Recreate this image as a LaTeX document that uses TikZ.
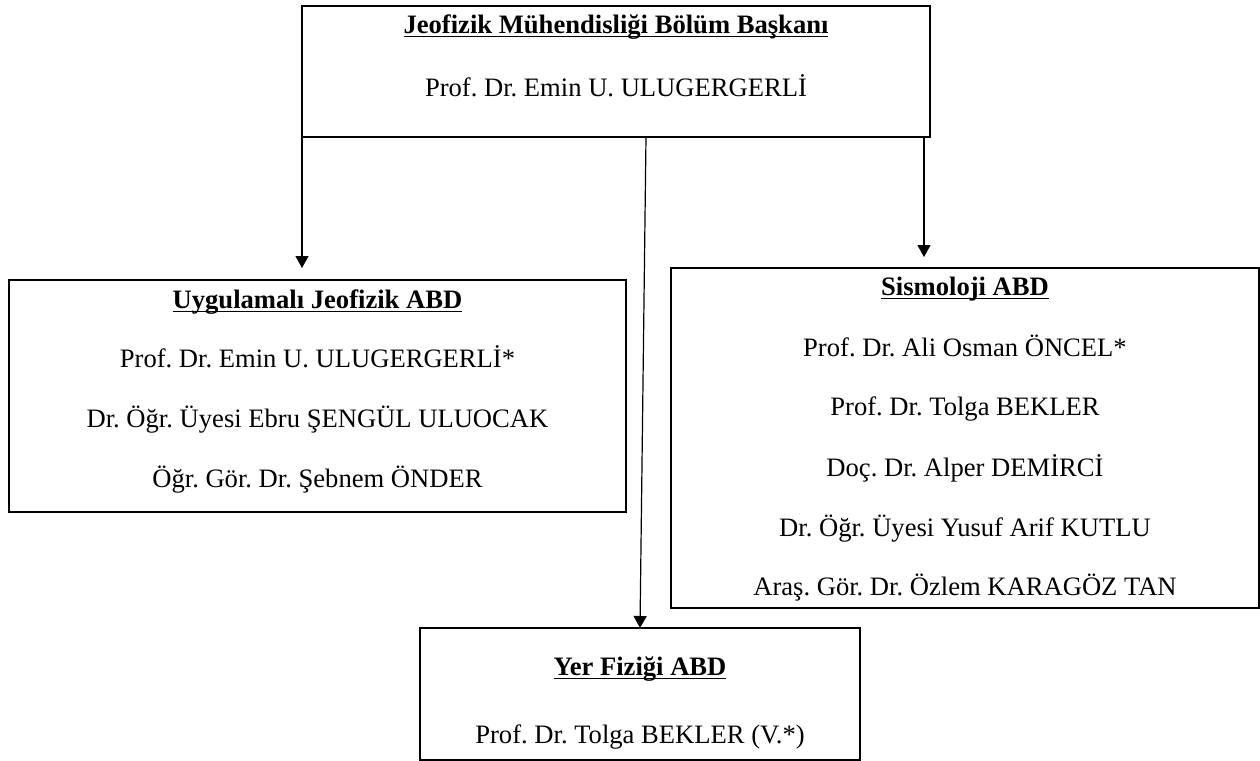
\documentclass[tikz,border=0pt]{standalone}
\usepackage{fontspec}
\setmainfont{Liberation Serif}
\usetikzlibrary{arrows.meta}

\newsavebox{\baslikkutu}
\newcommand{\altcizgili}[1]{\sbox{\baslikkutu}{\textbf{#1}}\rlap{\rule[-2.2pt]{\wd\baslikkutu}{0.75pt}}\usebox{\baslikkutu}}

\begin{document}
\frenchspacing
\begin{tikzpicture}[x=0.5pt,y=-0.5pt,
    kutu/.style={draw, line width=0.75pt, inner sep=0pt, outer sep=0pt},
    satir/.style={anchor=base, inner sep=0pt, font=\fontsize{13.3}{16}\selectfont},
    ok/.style={line width=0.6pt, -{Triangle[length=6pt,width=6.5pt]}}]

    \useasboundingbox (0,0) rectangle (1260,761);

    % bolum baskani
    \node[kutu, minimum width=314pt, minimum height=65.5pt] (bolum) at (616,71.5) {};
    \node[satir] (bolum1) at (616,33) {\altcizgili{Jeofizik Mühendisliği Bölüm Başkanı}};
    \node[satir] (bolum2) at (616,96) {Prof. Dr. Emin U. ULUGERGERLİ};

    % uygulamali jeofizik
    \node[kutu, minimum width=308.5pt, minimum height=116pt] (uygulamali) at (317.5,396) {};
    \node[satir] (uyg1) at (317.5,308) {\altcizgili{Uygulamalı Jeofizik ABD}};
    \node[satir] (uyg2) at (317.5,367) {Prof. Dr. Emin U. ULUGERGERLİ*};
    \node[satir] (uyg3) at (317.5,427) {Dr. Öğr. Üyesi Ebru ŞENGÜL ULUOCAK};
    \node[satir] (uyg4) at (317.5,487) {Öğr. Gör. Dr. Şebnem ÖNDER};

    % sismoloji
    \node[kutu, minimum width=294pt, minimum height=170pt] (sismoloji) at (965,438) {};
    \node[satir] (sis1) at (965,295) {\altcizgili{Sismoloji ABD}};
    \node[satir] (sis2) at (965,356) {Prof. Dr. Ali Osman ÖNCEL*};
    \node[satir] (sis3) at (965,415) {Prof. Dr. Tolga BEKLER};
    \node[satir] (sis4) at (965,476) {Doç. Dr. Alper DEMİRCİ};
    \node[satir] (sis5) at (965,536) {Dr. Öğr. Üyesi Yusuf Arif KUTLU};
    \node[satir] (sis6) at (965,595) {Araş. Gör. Dr. Özlem KARAGÖZ TAN};

    % yer fizigi
    \node[kutu, minimum width=220pt, minimum height=66pt] (yerfizigi) at (640,694) {};
    \node[satir] (yer1) at (640,675) {\altcizgili{Yer Fiziği ABD}};
    \node[satir] (yer2) at (640,743) {Prof. Dr. Tolga BEKLER (V.*)};

    \draw[ok, shorten >=6pt] (bolum.south west) -- (bolum.south west |- uygulamali.north); % baskan -> uygulamali
    \draw[ok] ([xshift=15pt]bolum.south) -- (yerfizigi.north); % baskan -> yer fizigi
    \draw[ok, shorten >=5.5pt] ([xshift=-3pt]bolum.south east) -- ([xshift=-3pt]bolum.south east |- sismoloji.north); % baskan -> sismoloji

\end{tikzpicture}
\end{document}
